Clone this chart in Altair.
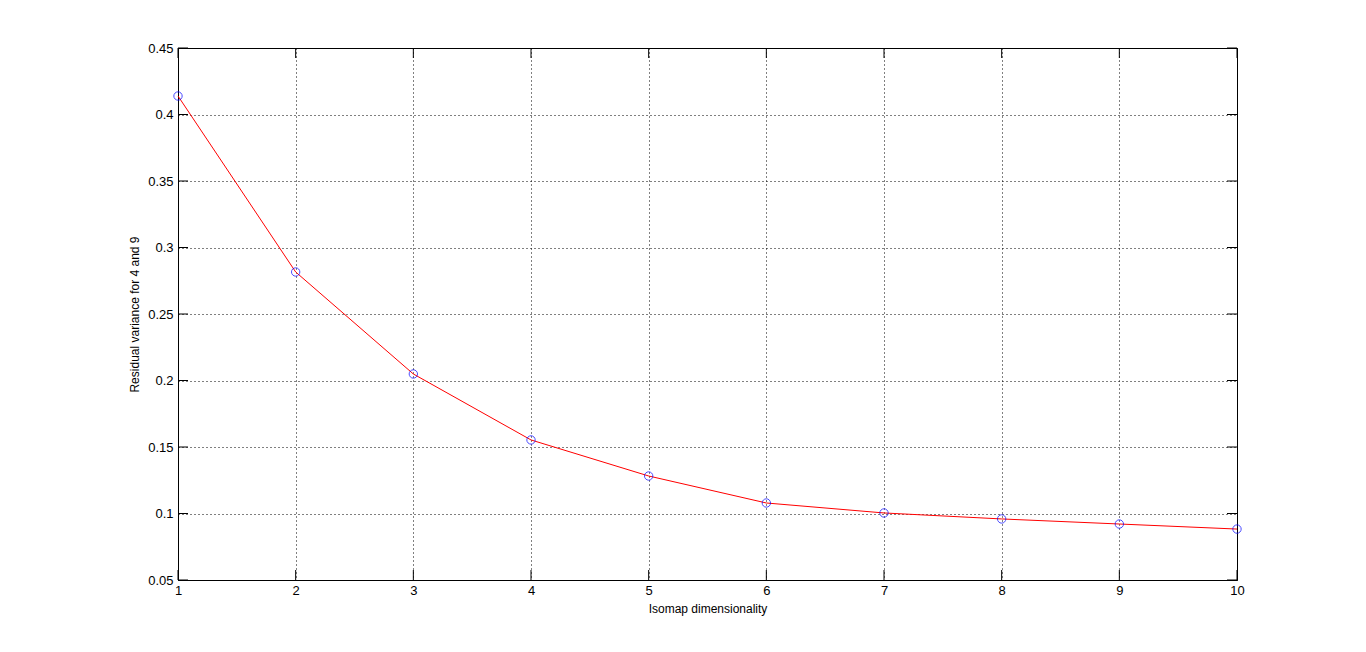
import altair as alt
import pandas as pd

dims = [1, 2, 3, 4, 5, 6, 7, 8, 9, 10]
resid = [0.4139, 0.2816, 0.2049, 0.1553, 0.1282, 0.1079, 0.1004, 0.0959, 0.0921, 0.0883]
xticks = [1, 2, 3, 4, 5, 6, 7, 8, 9, 10]
yticks = [0.05, 0.1, 0.15, 0.2, 0.25, 0.3, 0.35, 0.4, 0.45]

df = pd.DataFrame({"d": dims, "r": resid})
dfx = pd.DataFrame({"t": xticks})
dfy = pd.DataFrame({"t": yticks})

W, H = 1059, 532
FONT = "Liberation Sans"

xs = alt.Scale(domain=[1, 10], nice=False)
ys = alt.Scale(domain=[0.05, 0.45], nice=False)

xaxis = alt.Axis(values=xticks, format="d", grid=True, gridDash=[1, 3], gridColor="black",
                 gridOpacity=1, ticks=False, domainColor="black", labelFont=FONT, labelFontSize=13,
                 labelColor="black", labelPadding=4, title="Isomap dimensionality",
                 titleFont=FONT, titleFontSize=12, titleFontWeight="normal", titleColor="black",
                 titlePadding=6, labelFlush=False)
yaxis = alt.Axis(values=yticks, format="~g", grid=True, gridDash=[1, 3], gridColor="black",
                 gridOpacity=1, ticks=False, domainColor="black", labelFont=FONT, labelFontSize=13,
                 labelColor="black", labelPadding=5, title="Residual variance for 4 and 9",
                 titleFont=FONT, titleFontSize=12, titleFontWeight="normal", titleColor="black",
                 titlePadding=6, labelFlush=False)

line = alt.Chart(df).mark_line(color="red", strokeWidth=1).encode(
    x=alt.X("d:Q", scale=xs, axis=xaxis),
    y=alt.Y("r:Q", scale=ys, axis=yaxis),
)
pts = alt.Chart(df).mark_point(shape="circle", filled=False, color="blue", size=70, strokeWidth=1).encode(
    x=alt.X("d:Q", scale=xs),
    y=alt.Y("r:Q", scale=ys),
)

tick_len = 10
xt_bot = alt.Chart(dfx).mark_rule(color="black").encode(
    x=alt.X("t:Q", scale=xs), y=alt.value(H), y2=alt.value(H - tick_len))
xt_top = alt.Chart(dfx).mark_rule(color="black").encode(
    x=alt.X("t:Q", scale=xs), y=alt.value(0), y2=alt.value(tick_len))
yt_left = alt.Chart(dfy).mark_rule(color="black").encode(
    y=alt.Y("t:Q", scale=ys), x=alt.value(0), x2=alt.value(tick_len))
yt_right = alt.Chart(dfy).mark_rule(color="black").encode(
    y=alt.Y("t:Q", scale=ys), x=alt.value(W), x2=alt.value(W - tick_len))

chart = alt.layer(line, pts, xt_bot, xt_top, yt_left, yt_right).properties(
    width=W, height=H,
    autosize=alt.AutoSizeParams(type="none"),
    padding={"left": 170, "top": 40, "right": 20, "bottom": 60},
    background="white",
).configure_view(stroke="black", strokeWidth=1)

chart.save("out.html", embed_options={"renderer": "svg", "actions": False})
